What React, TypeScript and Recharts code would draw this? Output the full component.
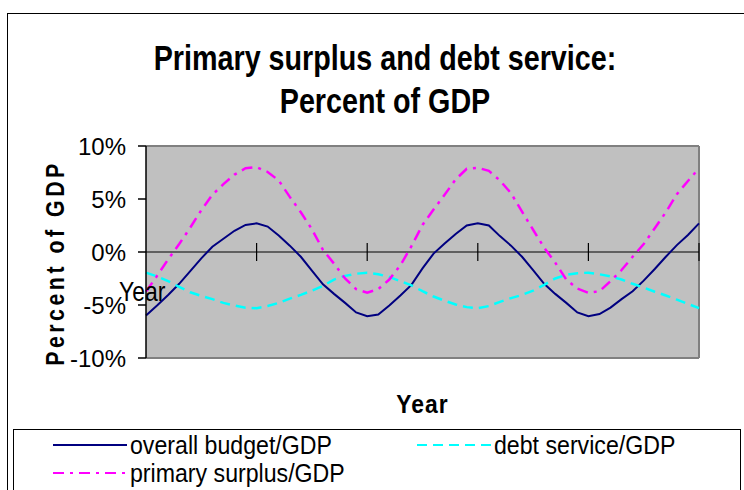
import React from 'react'
import {
  LineChart,
  Line,
  XAxis,
  YAxis,
  CartesianGrid,
  ReferenceLine,
  Legend,
  Label,
} from 'recharts'

// category index (years, unlabelled on the axis)
const periods = Array.from({ length: 51 }, (_, i) => i)

const overallBudget = [
  -6.0, -5.05, -4.05, -3.0, -1.8, -0.6, 0.5, 1.25, 2.0, 2.55,
  2.7, 2.4, 1.55, 0.6, -0.45, -1.75, -3.05, -3.95, -4.8, -5.7,
  -6.05, -5.9, -5.05, -4.1, -3.1, -1.55, -0.15, 0.8, 1.7, 2.5,
  2.7, 2.5, 1.5, 0.6, -0.45, -1.7, -3.0, -3.95, -4.8, -5.7,
  -6.05, -5.85, -5.25, -4.45, -3.7, -2.7, -1.6, -0.45, 0.65, 1.6,
  2.7,
]

const debtService = [
  -1.95, -2.3, -2.75, -3.3, -3.8, -4.15, -4.45, -4.8, -5.05, -5.25,
  -5.3, -5.1, -4.8, -4.4, -4.05, -3.65, -3.2, -2.6, -2.25, -2.05,
  -1.95, -2.1, -2.35, -2.75, -3.15, -3.7, -4.2, -4.6, -4.95, -5.2,
  -5.3, -5.1, -4.7, -4.35, -4.05, -3.65, -3.1, -2.5, -2.15, -2.0,
  -1.95, -2.1, -2.3, -2.6, -3.0, -3.35, -3.75, -4.1, -4.5, -4.9,
  -5.3,
]

const primarySurplus = [
  -3.74, -2.25, -0.7, 0.75, 2.3, 3.95, 5.4, 6.4, 7.3, 7.9,
  8.0, 7.55, 6.75, 5.2, 3.75, 2.15, 0.2, -1.1, -2.5, -3.5,
  -3.84, -3.5, -2.6, -1.25, 0.55, 2.55, 4.0, 5.4, 6.85, 7.85,
  7.95, 7.65, 6.75, 5.55, 3.8, 2.1, 0.4, -1.0, -2.6, -3.45,
  -3.85, -3.7, -2.75, -1.7, -0.45, 0.75, 2.24, 3.75, 5.45, 6.7,
  7.9,
]

const yTicks = [-10, -5, 0, 5, 10]
const xTickMarks = [10, 20, 30, 40, 50]

const data = periods.map((p, i) => ({
  period: p,
  budget: overallBudget[i],
  debt: debtService[i],
  primary: primarySurplus[i],
}))

const FONT = '"Liberation Sans", Arial, sans-serif'

const SERIES = [
  { key: 'budget', name: 'overall budget/GDP', color: '#000080', dash: undefined },
  { key: 'debt', name: 'debt service/GDP', color: '#00FFFF', dash: '10 6' },
  { key: 'primary', name: 'primary surplus/GDP', color: '#FF00FF', dash: '11 6 3 6' },
]

const LEGEND_POS: Record<string, { left: number; top: number }> = {
  budget: { left: 39, top: 1 },
  debt: { left: 403, top: 1 },
  primary: { left: 39, top: 29 },
}

const narrow = (scale: number): React.CSSProperties => ({
  display: 'inline-block',
  transform: `scaleX(${scale})`,
  transformOrigin: 'left center',
  whiteSpace: 'nowrap',
})

const renderLegend = () => (
  <div style={{ position: 'relative', width: '100%', height: '100%' }}>
    {SERIES.map((s) => (
      <div
        key={s.key}
        style={{
          position: 'absolute',
          left: LEGEND_POS[s.key].left,
          top: LEGEND_POS[s.key].top,
          display: 'flex',
          alignItems: 'center',
          height: 28,
        }}
      >
        <svg width={77} height={10} style={{ flex: 'none' }}>
          <line
            x1={0}
            y1={5}
            x2={74}
            y2={5}
            stroke={s.color}
            strokeWidth={2}
            strokeDasharray={s.dash}
          />
        </svg>
        <span
          style={{
            ...narrow(0.89),
            fontFamily: FONT,
            fontSize: 26,
            color: '#000',
            lineHeight: '28px',
          }}
        >
          {s.name}
        </span>
      </div>
    ))}
  </div>
)

export default function App() {
  return (
    <div
      style={{
        position: 'fixed',
        left: 0,
        top: 0,
        width: 744,
        height: 490,
        overflow: 'hidden',
        background: '#fff',
      }}
    >
      {/* outer chart frame */}
      <div
        style={{
          position: 'absolute',
          left: 7,
          top: 13,
          width: 780,
          height: 520,
          border: '1px solid #000',
        }}
      />
      <div
        style={{
          position: 'absolute',
          left: 0,
          width: 770,
          top: 36,
          textAlign: 'center',
          fontFamily: FONT,
          fontWeight: 'bold',
          fontSize: 35,
          lineHeight: '43px',
          color: '#000',
          transform: 'scaleX(0.82)',
          transformOrigin: 'center',
        }}
      >
        Primary surplus and debt service:
        <br />
        Percent of GDP
      </div>

      <LineChart
        width={744}
        height={490}
        data={data}
        margin={{ top: 146, right: 45, bottom: 72, left: 0 }}
        style={{ position: 'absolute', left: 0, top: 0 }}
      >
        <CartesianGrid horizontal={false} vertical={false} fill="#C0C0C0" />
        <XAxis
          dataKey="period"
          type="number"
          domain={[0, 50]}
          axisLine={false}
          tickLine={false}
          tick={false}
          height={60}
        >
          <Label
            content={({ viewBox }: any) => (
              <text
                transform={`translate(${viewBox.x + viewBox.width / 2}, ${viewBox.y + 55}) scale(0.88, 1)`}
                textAnchor="middle"
                fontFamily={FONT}
                fontWeight="bold"
                fontSize={26}
                letterSpacing={1.2}
                fill="#000"
              >
                Year
              </text>
            )}
          />
        </XAxis>
        <YAxis
          domain={[-10, 10]}
          ticks={yTicks}
          width={146}
          tickFormatter={(v: number) => `${v}%`}
          tick={{ fontFamily: FONT, fontSize: 24, fill: '#000' }}
          tickSize={8}
          tickMargin={12}
          axisLine={{ stroke: '#000', strokeWidth: 1.5 }}
          tickLine={{ stroke: '#000', strokeWidth: 1.5 }}
          interval={0}
        >
          <Label
            content={() => (
              <text
                transform="translate(55, 263) rotate(-90) scale(0.82, 1)"
                textAnchor="middle"
                dominantBaseline="central"
                fontFamily={FONT}
                fontWeight="bold"
                fontSize={26}
                letterSpacing={4.3}
                fill="#000"
              >
                Percent of GDP
              </text>
            )}
          />
        </YAxis>

        <ReferenceLine y={10} stroke="#808080" strokeWidth={2} />
        <ReferenceLine y={-10} stroke="#808080" strokeWidth={2} />
        <ReferenceLine x={50} stroke="#808080" strokeWidth={2} />
        <ReferenceLine y={0} stroke="#000" strokeWidth={1.2} />
        {xTickMarks.map((t) => (
          <ReferenceLine
            key={t}
            segment={[
              { x: t, y: -0.85 },
              { x: t, y: 0.85 },
            ]}
            stroke="#000"
            strokeWidth={1.2}
          />
        ))}

        {SERIES.map((s) => (
          <Line
            key={s.key}
            type="linear"
            dataKey={s.key}
            name={s.name}
            stroke={s.color}
            strokeWidth={s.key === 'budget' ? 2 : 2.5}
            strokeDasharray={s.dash}
            dot={false}
            activeDot={false}
            isAnimationActive={false}
          />
        ))}

        <Legend
          layout="horizontal"
          verticalAlign="middle"
          align="center"
          content={renderLegend}
          wrapperStyle={{
            position: 'absolute',
            left: 13,
            top: 429,
            width: 728,
            height: 80,
            border: '1px solid #000',
            boxSizing: 'border-box',
            background: '#fff',
          }}
        />
      </LineChart>

      <span
        style={{
          ...narrow(0.82),
          position: 'absolute',
          left: 119,
          top: 276,
          fontFamily: FONT,
          fontSize: 28,
          color: '#000',
          lineHeight: '32px',
        }}
      >
        Year
      </span>
    </div>
  )
}
